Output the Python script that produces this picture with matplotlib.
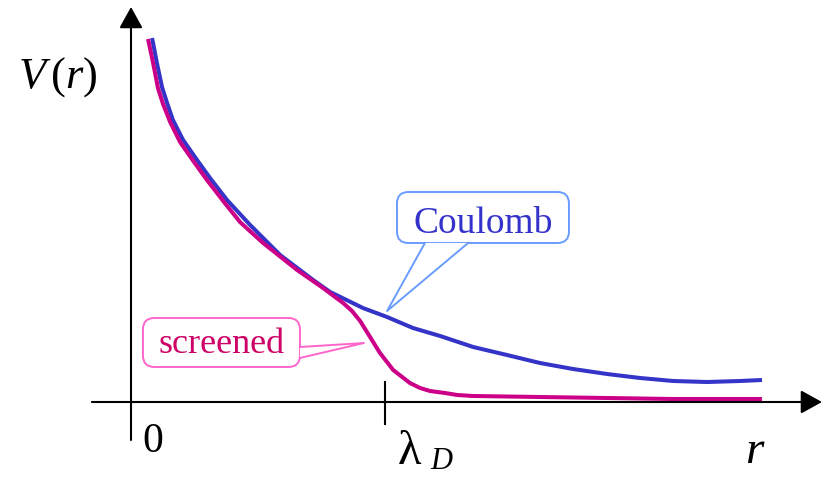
import matplotlib
matplotlib.use('Agg')
import matplotlib.pyplot as plt
from matplotlib.patches import FancyBboxPatch, Polygon

plt.rcParams['font.family'] = ['Liberation Serif', 'DejaVu Serif']
plt.rcParams['mathtext.fontset'] = 'custom'
plt.rcParams['mathtext.rm'] = 'Liberation Serif'
plt.rcParams['mathtext.it'] = 'Liberation Serif:italic'

# Data: r in units of the Debye length, V in arbitrary units ##########
r_coulomb = [0.083, 0.102, 0.122, 0.142, 0.165, 0.205, 0.260, 0.311, 0.378, 0.469,
             0.587, 0.717, 0.784, 0.913, 1.008, 1.110, 1.217, 1.347, 1.480, 1.610,
             1.740, 1.874, 2.004, 2.134, 2.268, 2.398, 2.484]
v_coulomb = [3.64, 3.39, 3.15, 2.99, 2.82, 2.62, 2.42, 2.24, 2.02, 1.77,
             1.47, 1.22, 1.10, 0.94, 0.85, 0.74, 0.66, 0.55, 0.47, 0.39,
             0.33, 0.28, 0.24, 0.21, 0.20, 0.21, 0.22]

r_screened = [0.067, 0.087, 0.106, 0.126, 0.154, 0.193, 0.248, 0.299, 0.366, 0.429,
              0.520, 0.654, 0.756, 0.835, 0.870, 0.902, 0.941, 0.980, 1.032, 1.098,
              1.138, 1.177, 1.236, 1.284, 1.347, 1.610, 1.874, 2.134, 2.484]
v_screened = [3.63, 3.39, 3.14, 2.98, 2.80, 2.60, 2.40, 2.22, 2.00, 1.80,
              1.59, 1.32, 1.14, 0.99, 0.91, 0.81, 0.65, 0.49, 0.32, 0.19,
              0.14, 0.11, 0.09, 0.07, 0.06, 0.05, 0.04, 0.03, 0.03]

lambda_d = 1.0
#######################################################################

blue = '#3434c8'
magenta = '#cc0088'

fig = plt.figure(figsize=(8.24, 4.79), dpi=100)
ax = fig.add_axes([0, 0, 1, 1])
ax.set_xlim(-0.5157, 2.728)
ax.set_ylim(-0.77, 4.02)
ax.axis('off')

# axes with arrows
arrow = dict(arrowstyle='-|>,head_length=1.3,head_width=0.72', mutation_scale=10,
             color='black', lw=1.5, shrinkA=0, shrinkB=0)
ax.annotate('', xy=(2.72, 0), xytext=(-0.154, 0), arrowprops=arrow)
ax.annotate('', xy=(0, 3.95), xytext=(0, -0.38), arrowprops=arrow)
ax.plot([lambda_d, lambda_d], [0.20, -0.22], color='black', lw=1.5)

# curves
ax.plot(r_coulomb, v_coulomb, color=blue, lw=2.9, solid_capstyle='butt', solid_joinstyle='round')
ax.plot(r_screened, v_screened, color=magenta, lw=2.9, solid_capstyle='butt', solid_joinstyle='round')

# labels
ax.text(-0.287, 3.25, r'$V\,(r)$', fontsize=32, ha='center', va='center')
ax.text(0.087, -0.40, '0', fontsize=30, ha='center', va='center')
ax.text(1.051, -0.62, 'λ', fontsize=35, ha='left', va='baseline')
ax.text(1.178, -0.67, 'D', fontsize=22, style='italic', ha='left', va='baseline')
ax.text(2.453, -0.61, 'r', fontsize=34, style='italic', ha='center', va='baseline')


def callout(x0, x1, y0, y1, base, tip, edge, text, tcolor, tx, ty, size):
    box = FancyBboxPatch((x0, y0), x1 - x0, y1 - y0,
                         boxstyle='round,pad=0,rounding_size=0.045',
                         mutation_aspect=2.54, fc='white', ec=edge, lw=1.4, zorder=5)
    ax.add_patch(box)
    # white wedge hides the box border under the pointer
    ax.add_patch(Polygon([base[0], base[1], tip], closed=True, fc='white', ec='none', zorder=6))
    ax.plot([base[0][0], tip[0], base[1][0]], [base[0][1], tip[1], base[1][1]],
            color=edge, lw=1.4, zorder=7)
    ax.text(tx, ty, text, color=tcolor, fontsize=size, ha='center', va='baseline', zorder=8)


callout(1.047, 1.724, 1.59, 2.10, [(1.157, 1.59), (1.327, 1.59)], (1.008, 0.91),
        '#6a9cff', 'Coulomb', '#3333cc', 1.386, 1.69, 27)
callout(0.047, 0.665, 0.35, 0.84, [(0.665, 0.55), (0.665, 0.44)], (0.917, 0.59),
        '#ff66cc', 'screened', '#cc0066', 0.356, 0.49, 26)

fig.savefig('out.png', dpi=100)
